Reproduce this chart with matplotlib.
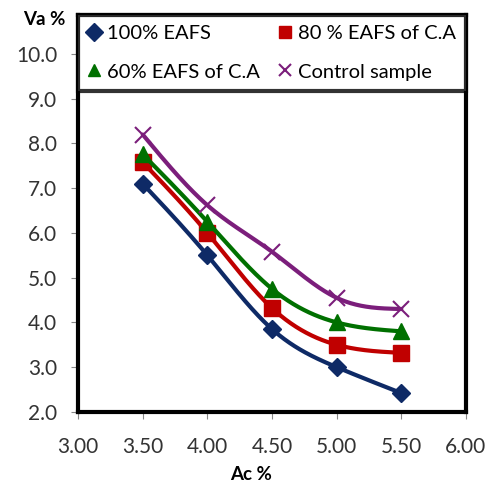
import numpy as np
import matplotlib
matplotlib.use("Agg")
import matplotlib.pyplot as plt

plt.rcParams['font.family'] = ['Lato', 'DejaVu Sans']

# Ac % on x, Va % on y
ac = [3.5, 4.0, 4.5, 5.0, 5.5]
va_100 = [7.1, 5.5, 3.85, 3.0, 2.42]
va_80 = [7.58, 6.0, 4.32, 3.5, 3.32]
va_60 = [7.76, 6.25, 4.75, 4.0, 3.8]
va_ctrl = [8.2, 6.62, 5.58, 4.55, 4.3]


def smooth(x, y, n=200):
    # natural cubic spline through the points (smoothed line look)
    x = np.asarray(x, float)
    y = np.asarray(y, float)
    m = len(x)
    h = np.diff(x)
    A = np.zeros((m, m))
    b = np.zeros(m)
    A[0, 0] = A[-1, -1] = 1
    for i in range(1, m-1):
        A[i, i-1] = h[i-1]
        A[i, i] = 2*(h[i-1]+h[i])
        A[i, i+1] = h[i]
        b[i] = 6*((y[i+1]-y[i])/h[i] - (y[i]-y[i-1])/h[i-1])
    M = np.linalg.solve(A, b)
    xs = np.linspace(x[0], x[-1], n)
    k = np.clip(np.searchsorted(x, xs) - 1, 0, m-2)
    t = xs - x[k]
    hk = h[k]
    ys = (M[k]*(x[k+1]-xs)**3/(6*hk) + M[k+1]*t**3/(6*hk)
          + (y[k]/hk - M[k]*hk/6)*(x[k+1]-xs) + (y[k+1]/hk - M[k+1]*hk/6)*t)
    return xs, ys


fig = plt.figure(figsize=(4.91, 4.88), dpi=100)
ax = fig.add_axes([0.159, 0.156, 0.790, 0.813])

series = [
    (va_100, '#0E2A66', 'D', 9, '100% EAFS'),
    (va_80, '#C00000', 's', 11, '80 % EAFS of C.A'),
    (va_60, '#007000', '^', 11, '60% EAFS of C.A'),
    (va_ctrl, '#7B1E7B', 'x', 11, 'Control sample'),
]
handles = {}
for vals, col, mk, ms, lab in series:
    sx, sy = smooth(ac, vals)
    ax.plot(sx, sy, color=col, lw=3, solid_capstyle='round')
    handles[lab] = ax.plot(ac, vals, ls='none', marker=mk, ms=ms, color=col,
                           mew=1.5 if mk == 'x' else 1, label=lab)[0]

ax.set_xlim(3.0, 6.0)
ax.set_ylim(2.0, 10.87)
ax.set_xticks(np.arange(3.0, 6.01, 0.5))
ax.set_xticklabels(['%.2f' % v for v in np.arange(3.0, 6.01, 0.5)])
ax.set_yticks(np.arange(2.0, 10.01, 1.0))
ax.set_yticklabels(['%.1f' % v for v in np.arange(2.0, 10.01, 1.0)])
ax.tick_params(direction='out', length=5, color='#888888', labelsize=15,
               labelcolor='#333333')
ax.tick_params(axis='x', pad=13)
ax.tick_params(axis='y', pad=10)
for s in ax.spines.values():
    s.set_linewidth(3)
    s.set_color('black')

fig.text(0.512, 0.027, 'Ac %', fontsize=13.5, fontweight='bold', ha='center', va='center')
fig.text(0.047, 0.961, 'Va %', fontsize=13.5, fontweight='bold', ha='left', va='center')

order = ['100% EAFS', '60% EAFS of C.A', '80 % EAFS of C.A', 'Control sample']
leg = ax.legend([handles[k] for k in order], order, loc='upper left',
                bbox_to_anchor=(0, 0.804, 1, 0.196), mode='expand',
                ncol=2, borderaxespad=0, fontsize=14.5, frameon=True, fancybox=False,
                handlelength=0.6, handletextpad=0.35, columnspacing=0.3,
                borderpad=0.5, labelspacing=1.05)
leg.get_frame().set_edgecolor('black')
leg.get_frame().set_linewidth(3)
for h in leg.legend_handles:
    h.set_markersize(9)

fig.savefig('out.png', dpi=100)
